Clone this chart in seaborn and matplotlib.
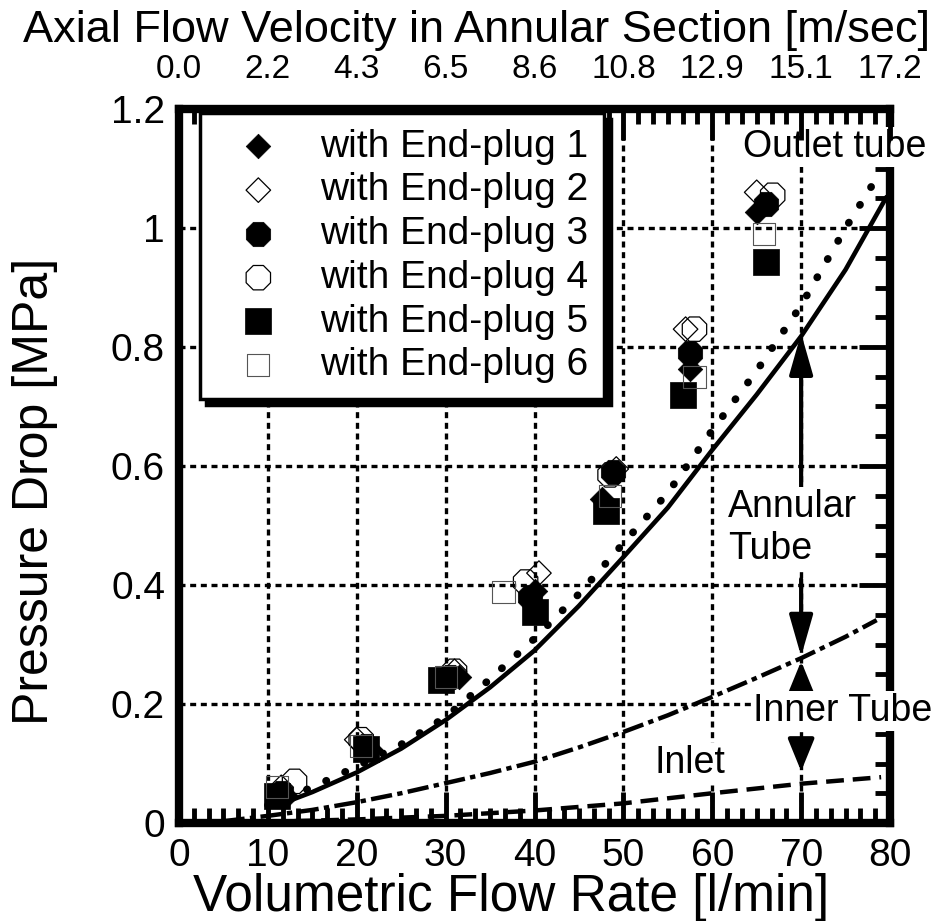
import matplotlib
matplotlib.use("Agg")
import matplotlib.pyplot as plt
import seaborn as sns
from matplotlib.ticker import AutoMinorLocator

# ---------------- data ----------------
flow_ticks = [0, 10, 20, 30, 40, 50, 60, 70, 80]
velocity_labels = ["0.0", "2.2", "4.3", "6.5", "8.6", "10.8", "12.9", "15.1", "17.2"]
y_ticks = [0, 0.2, 0.4, 0.6, 0.8, 1.0, 1.2]
y_tick_labels = ["0", "0.2", "0.4", "0.6", "0.8", "1", "1.2"]

plug_labels = ["with End-plug 1", "with End-plug 2", "with End-plug 3",
               "with End-plug 4", "with End-plug 5", "with End-plug 6"]
p1_x = [12.0, 21.5, 31.5, 40.0, 47.6, 57.5, 65.0]
p1_y = [0.045, 0.125, 0.245, 0.390, 0.545, 0.763, 1.027]
p2_x = [11.5, 20.0, 31.0, 40.5, 49.2, 57.0, 65.0]
p2_y = [0.060, 0.140, 0.255, 0.420, 0.595, 0.830, 1.060]
p3_x = [11.5, 21.0, 30.5, 39.5, 48.8, 57.5, 66.0]
p3_y = [0.050, 0.130, 0.245, 0.380, 0.590, 0.790, 1.040]
p4_x = [13.0, 20.5, 31.0, 39.0, 48.5, 58.0, 66.8]
p4_y = [0.070, 0.140, 0.255, 0.405, 0.585, 0.830, 1.055]
p5_x = [11.0, 21.0, 29.5, 40.0, 48.0, 56.7, 66.1]
p5_y = [0.045, 0.125, 0.240, 0.355, 0.525, 0.720, 0.943]
p6_x = [11.0, 20.5, 30.0, 36.5, 48.5, 58.0, 65.8]
p6_y = [0.060, 0.130, 0.245, 0.388, 0.550, 0.750, 0.990]

annular_x = [12, 15, 20, 25, 30, 35, 40, 45, 50, 55, 60, 65, 70, 75, 79.6]
annular_y = [0.035, 0.052, 0.085, 0.125, 0.173, 0.228, 0.290, 0.365, 0.447,
             0.530, 0.627, 0.720, 0.818, 0.930, 1.052]
total_x = [10, 15, 20, 25, 30, 35, 40, 45, 50, 55, 60, 65, 70, 75, 78]
total_y = [0.030, 0.060, 0.095, 0.132, 0.178, 0.242, 0.310, 0.385, 0.470,
           0.555, 0.660, 0.760, 0.870, 1.000, 1.072]
inner_x = [5, 10, 15, 20, 25, 30, 35, 40, 45, 50, 55, 60, 65, 70, 75, 78.5]
inner_y = [0.003, 0.012, 0.022, 0.035, 0.050, 0.067, 0.084, 0.103, 0.127,
           0.153, 0.181, 0.212, 0.244, 0.277, 0.313, 0.341]
inlet_x = [10, 20, 30, 40, 50, 60, 70, 79]
inlet_y = [0.002, 0.006, 0.012, 0.021, 0.033, 0.050, 0.066, 0.077]

# ---------------- style ----------------
sns.set_style("white")
plt.rcParams["font.family"] = ["Liberation Sans", "DejaVu Sans"]
plt.rcParams["text.color"] = "k"
plt.rcParams["axes.labelcolor"] = "k"
plt.rcParams["xtick.color"] = "k"
plt.rcParams["ytick.color"] = "k"

fig = plt.figure(figsize=(9.49, 9.21), dpi=100)
ax = fig.add_axes([179 / 949, 1 - 823 / 921, 711 / 949, 714 / 921])

# curves
sns.lineplot(x=annular_x, y=annular_y, ax=ax, color="k", lw=3.3, sort=False,
             estimator=None, zorder=2)
sns.lineplot(x=total_x, y=total_y, ax=ax, color="k", lw=5.5, sort=False,
             estimator=None, linestyle=(0, (0.05, 2.7)),
             dash_capstyle="round", zorder=2)
sns.lineplot(x=inner_x, y=inner_y, ax=ax, color="k", lw=3.2, sort=False,
             estimator=None, linestyle=(0, (4.8, 1.2, 1.2, 1.2)), zorder=2)
sns.lineplot(x=inlet_x, y=inlet_y, ax=ax, color="k", lw=3.2, sort=False,
             estimator=None, linestyle=(0, (4.0, 2.0)), zorder=2)

# data markers
series = [
    (p1_x, p1_y, "D", 12.5 ** 2, "k", "k", 0.5),
    (p2_x, p2_y, "D", 12.5 ** 2, "none", "k", 0.9),
    (p3_x, p3_y, "8", 19 ** 2, "k", "k", 0.5),
    (p4_x, p4_y, "8", 19 ** 2, "none", "k", 0.9),
    (p5_x, p5_y, "s", 19 ** 2, "k", "k", 0.5),
    (p6_x, p6_y, "s", 16 ** 2, "none", "#555555", 0.8),
]
for (xs, ys, mk, size, fc, ec, lw), lab in zip(series, plug_labels):
    sns.scatterplot(x=xs, y=ys, ax=ax, marker=mk, s=size, facecolors=fc,
                    edgecolors=ec, linewidths=lw, label=lab, zorder=4)
handles, labels = ax.get_legend_handles_labels()
if ax.get_legend() is not None:
    ax.get_legend().remove()

# axes limits, ticks
ax.set_xlim(0, 80)
ax.set_ylim(0, 1.2)
ax.set_xticks(flow_ticks)
ax.set_yticks(y_ticks)
ax.set_yticklabels(y_tick_labels)
ax.xaxis.set_minor_locator(AutoMinorLocator(6))
ax.yaxis.set_minor_locator(AutoMinorLocator(4))
ax.tick_params(which="major", direction="in", length=22, width=3.5,
               right=True, top=False, labelsize=28, pad=11, colors="k")
ax.tick_params(which="minor", direction="in", length=11, width=3.5,
               right=True, top=False, colors="k")
ax.tick_params(axis="y", which="major", pad=10)
for sp in ax.spines.values():
    sp.set_linewidth(6)
    sp.set_color("k")
    sp.set_capstyle("projecting")

ax.grid(True, which="major", color="k", linestyle=(0, (1.8, 1.4)),
        linewidth=2.4)
ax.set_axisbelow(True)

ax.set_xlabel("Volumetric Flow Rate [l/min]", fontsize=37)
ax.xaxis.set_label_coords(0.467, -0.07)
ax.set_ylabel("Pressure Drop [MPa]", fontsize=36)
ax.yaxis.set_label_coords(-0.17, 0.465)

# top axis (velocity)
ax2 = ax.twiny()
ax2.set_xlim(0, 80)
ax2.set_xticks(flow_ticks)
ax2.set_xticklabels(velocity_labels)
ax2.xaxis.set_minor_locator(AutoMinorLocator(6))
ax2.tick_params(which="major", direction="in", length=22, width=3.5,
                labelsize=24, pad=17, colors="k")
ax2.tick_params(which="minor", direction="in", length=11, width=3.5, colors="k")
for sp in ax2.spines.values():
    sp.set_visible(False)
ax2.set_xlabel("Axial Flow Velocity in Annular Section [m/sec]", fontsize=32.5)
ax2.xaxis.set_label_coords(0.418, 1.094)

# annotations
txt_kw = dict(fontsize=27, color="k", zorder=6)
box = dict(facecolor="white", edgecolor="none", pad=1.5)
ax.text(73.8, 1.136, "Outlet tube", ha="center", va="center", bbox=box, **txt_kw)
ax.text(61.8, 0.496, "Annular\nTube", ha="left", va="center", linespacing=1.2,
        bbox=box, **txt_kw)
ax.text(64.6, 0.188, "Inner Tube", ha="left", va="center", bbox=box, **txt_kw)
ax.text(57.5, 0.101, "Inlet", ha="center", va="center", bbox=box, **txt_kw)

arr_big = dict(arrowstyle="-|>,head_length=1.4,head_width=0.4", color="k",
               lw=3, shrinkA=0, shrinkB=0, mutation_scale=18)
arr_small = dict(arrowstyle="-|>,head_length=1.1,head_width=0.45", color="k",
                 lw=3, shrinkA=0, shrinkB=0, mutation_scale=18)
ax.annotate("", xy=(70, 0.823), xytext=(70, 0.56), arrowprops=arr_big, zorder=5)
ax.annotate("", xy=(70, 0.28), xytext=(70, 0.41), arrowprops=arr_big, zorder=5)
ax.annotate("", xy=(70, 0.272), xytext=(70, 0.232), arrowprops=arr_small, zorder=5)
ax.annotate("", xy=(70, 0.087), xytext=(70, 0.142), arrowprops=arr_small, zorder=5)

# legend
leg = ax2.legend(handles, labels, loc="upper left",
                 bbox_to_anchor=(200 / 949, 1 - 113 / 921),
                 bbox_transform=fig.transFigure, borderaxespad=0,
                 fontsize=28, frameon=True, fancybox=False, framealpha=1,
                 edgecolor="k", borderpad=0.4, labelspacing=0.2,
                 handlelength=2.2, handletextpad=0.5,
                 shadow={"ox": 4.5, "oy": -4.5, "color": "k", "alpha": 1})
leg.get_frame().set_linewidth(2.5)
for t in leg.get_texts():
    t.set_color("k")

fig.savefig("out.png", dpi=100)
